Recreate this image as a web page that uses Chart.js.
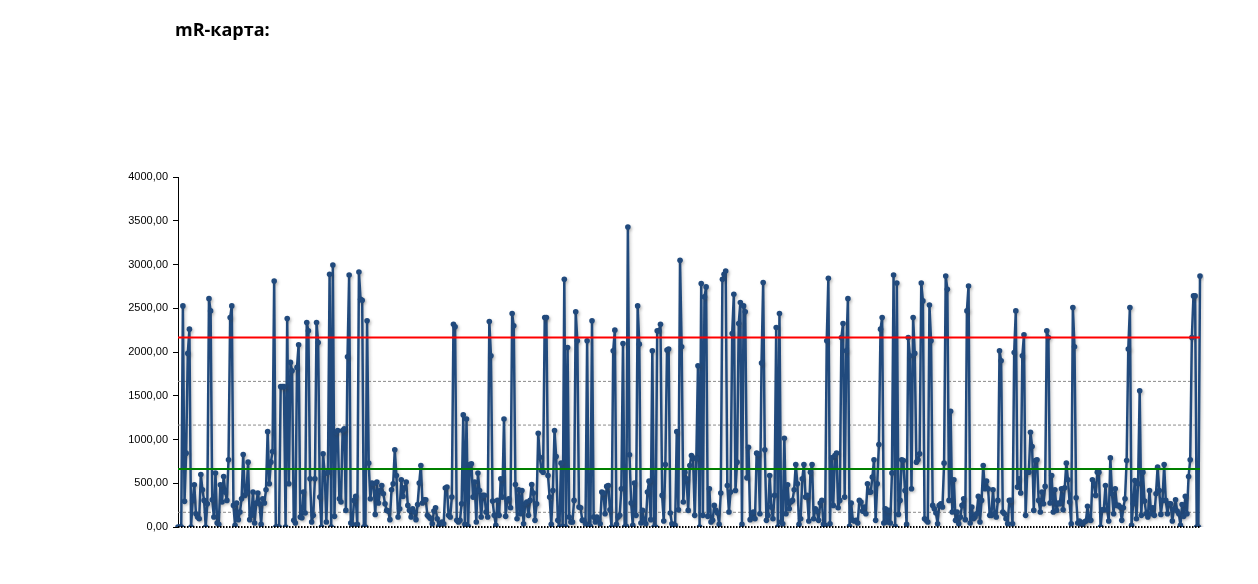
<!doctype html>
<html lang="ru">
  <head>
    <script src="https://cdn.jsdelivr.net/npm/chart.js"></script>
    <meta charset="UTF-8" />
    <title>mR-карта</title>
    <style>
      body {
        margin: 0;
        background: #fff;
        font-family: "Open Sans", Arial, sans-serif;
      }
      #wrap {
        position: relative;
        width: 1258px;
        height: 584px;
      }
      #title {
        position: absolute;
        left: 175px;
        top: 17px;
        font-size: 18px;
        font-weight: bold;
        color: #000;
      }
      canvas {
        position: absolute;
        left: 0;
        top: 0;
      }
    </style>
  </head>
  <body>
    <div id="wrap">
      <canvas id="myChart" width="1258" height="584"></canvas>
      <div id="title">mR-карта:</div>
    </div>

    <script>
      // moving ranges left to right
      const mrValues = [
        0,0,0,2527,293,844,1984,2261,0,304,483,152,114,95,600,425,304,0,266,2610,2470,312,114,616,46,30,483,285,578,399,304,768,2394,2527,247,19,274,84,171,323,828,361,388,741,84,133,399,46,274,388,266,30,323,274,425,1090,494,741,863,2812,0,0,0,1604,1604,1604,0,2383,494,1881,1786,76,46,1824,2082,114,106,399,160,2337,2242,551,57,133,551,2337,2109,342,0,836,608,57,627,2888,0,2994,122,1083,1102,323,285,1102,1121,190,
        1946,2880,46,30,304,350,30,2915,2603,2592,0,0,2356,730,323,502,494,144,513,274,418,475,380,266,190,182,84,425,494,882,589,114,209,540,350,448,513,247,190,114,209,171,84,258,502,703,274,312,312,133,114,95,38,182,220,95,8,46,57,38,445,456,133,114,342,2318,2288,76,57,76,266,1281,30,1235,8,714,722,342,513,57,616,418,114,361,361,171,114,2348,1957,296,133,19,304,133,551,342,1235,122,304,323,220,2440,2299,486,95,425,
        152,418,38,266,285,133,304,486,388,76,266,1072,798,646,627,2394,2394,589,342,30,418,1102,806,76,0,730,8,2831,0,2052,114,57,57,304,2459,2128,228,220,76,76,38,2128,0,8,2356,114,57,114,84,38,399,388,152,464,475,198,0,2014,2250,30,114,133,437,2098,0,8,3428,825,274,19,502,133,2527,2090,46,190,76,38,399,524,84,2014,0,0,2242,2242,2318,361,68,714,2022,2033,160,38,19,19,1090,198,3048,2060,285,627,551,190,703,817,
        790,133,779,1843,0,2782,133,2630,2744,122,437,57,76,247,190,160,30,388,2831,2888,2926,475,171,399,2212,2660,418,741,2326,2565,30,2527,2459,562,912,84,114,171,95,844,836,152,1873,2793,882,76,133,589,228,95,361,2280,0,2440,57,38,1015,152,483,209,285,304,425,714,494,30,95,551,714,342,361,68,627,714,95,209,182,76,274,304,30,19,2128,2842,38,790,247,817,844,220,304,2166,2326,342,2014,2610,8,274,76,68,76,46,304,285,182,228,
        152,494,399,399,570,768,76,494,942,2261,2394,46,209,57,190,46,616,2880,8,2789,144,304,768,760,418,30,2166,1957,437,2394,1984,741,768,836,2789,2584,95,76,57,2538,2128,247,209,160,38,247,266,228,730,2869,2717,304,1322,171,540,76,171,38,114,247,323,84,2470,2755,46,228,95,114,152,350,57,304,703,437,524,437,133,133,425,152,114,304,2014,1900,171,152,95,38,304,304,38,1995,2470,456,551,388,1957,2196,133,627,627,1083,920,190,760,
        768,304,171,399,266,464,2242,2166,274,589,171,425,190,274,266,437,198,448,730,540,285,38,2508,2060,334,46,68,38,30,57,68,236,84,76,540,494,361,627,627,0,198,198,475,198,68,790,380,152,437,247,247,228,76,220,323,760,2033,2508,19,266,532,95,494,1558,133,627,296,152,114,418,152,220,133,380,684,418,144,304,714,304,152,266,266,68,209,312,182,152,19,258,122,350,152,578,768,2166,2641,2641,0,0,2869
      ];
      const categories = mrValues.map((_, i) => i + 1);

      // control limits
      const upperLimit = 2166;
      const centerLine = 663;
      const zoneLines = [1664, 1165, 168];
      const lowerLimit = 0;

      const yTicks = [0, 500, 1000, 1500, 2000, 2500, 3000, 3500, 4000];

      function hLine(chart, value, color, width, dash) {
        const { ctx, chartArea } = chart;
        const y = chart.scales.y.getPixelForValue(value);
        ctx.save();
        ctx.strokeStyle = color;
        ctx.lineWidth = width;
        ctx.setLineDash(dash);
        ctx.beginPath();
        ctx.moveTo(chartArea.left, y);
        ctx.lineTo(chartArea.right, y);
        ctx.stroke();
        ctx.restore();
      }

      const limitsPlugin = {
        id: "limits",
        beforeDatasetsDraw(chart) {
          zoneLines.forEach((v) => hLine(chart, v, "#8c8c8c", 1, [3, 2]));
        },
        afterDatasetsDraw(chart) {
          hLine(chart, upperLimit, "#ff0000", 2.2, []);
          hLine(chart, centerLine, "#008000", 2.2, []);
          hLine(chart, lowerLimit, "#000000", 2, [1.5, 1.5]);
        },
        beforeDatasetDraw(chart) {
          const ctx = chart.ctx;
          ctx.save();
          ctx.shadowColor = "rgba(60,60,60,0.25)";
          ctx.shadowBlur = 3;
          ctx.shadowOffsetX = 1.5;
          ctx.shadowOffsetY = 1.5;
        },
        afterDatasetDraw(chart) {
          chart.ctx.restore();
        },
      };

      const ctx = document.getElementById("myChart").getContext("2d");
      new Chart(ctx, {
        type: "line",
        data: {
          labels: categories,
          datasets: [
            {
              label: "mR",
              data: mrValues,
              borderColor: "#214a7d",
              backgroundColor: "#214a7d",
              borderWidth: 2.5,
              borderJoinStyle: "round",
              borderCapStyle: "round",
              pointRadius: 2.8,
              pointBorderWidth: 0,
              tension: 0,
            },
          ],
        },
        options: {
          responsive: false,
          animation: false,
          devicePixelRatio: 1,
          layout: { padding: { left: 0, right: 58, top: 177, bottom: 57 } },
          plugins: {
            legend: { display: false },
            tooltip: { enabled: false },
          },
          scales: {
            x: { display: false, offset: false },
            y: {
              min: 0,
              max: 4000,
              afterFit: (scale) => {
                scale.width = 178;
              },
              afterBuildTicks: (scale) => {
                scale.ticks = yTicks.map((v) => ({ value: v }));
              },
              border: { display: true, color: "#000", width: 1 },
              grid: {
                drawOnChartArea: false,
                drawTicks: true,
                tickLength: 5,
                color: "#000",
              },
              ticks: {
                padding: 5,
                color: "#000",
                font: { family: "Liberation Sans, Arial", size: 11 },
                callback: (value) => value.toFixed(2).replace(".", ","),
              },
            },
          },
        },
        plugins: [limitsPlugin],
      });
    </script>
  </body>
</html>
